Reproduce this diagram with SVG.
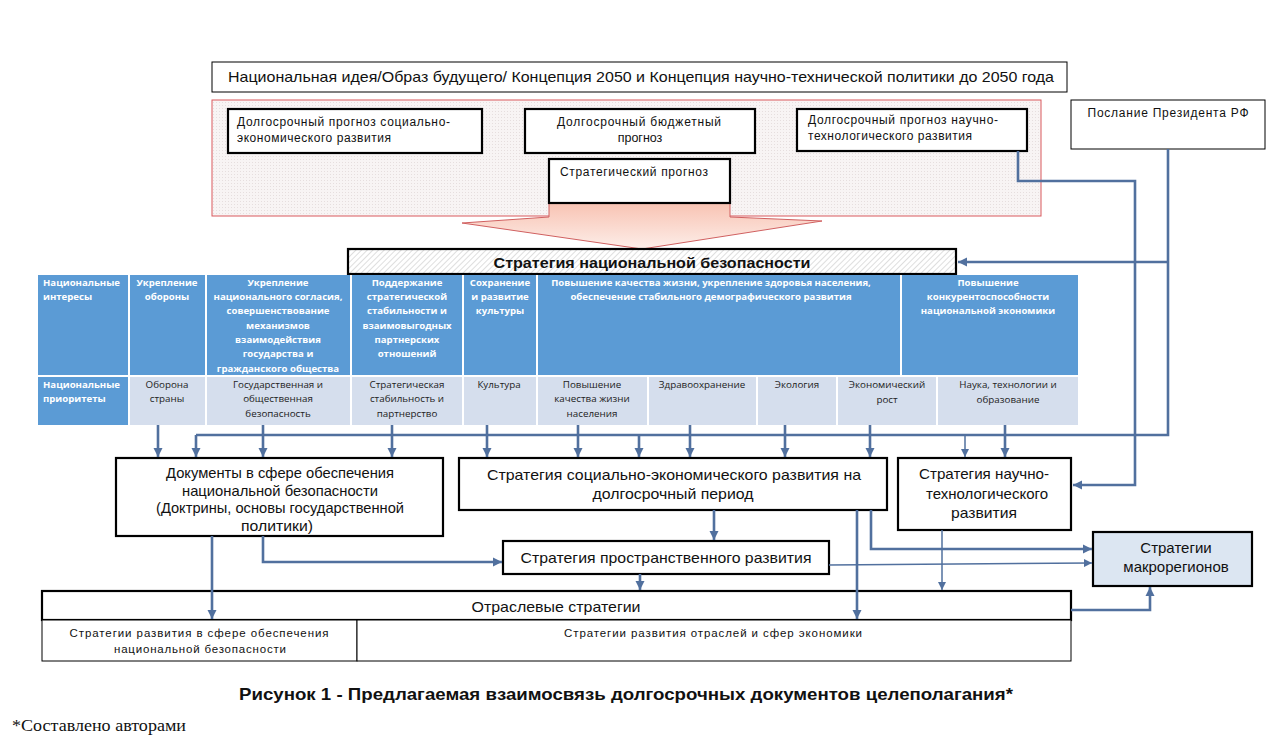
<svg xmlns="http://www.w3.org/2000/svg" width="1288" height="740" viewBox="0 0 1288 740">
<style>
.t{font-family:"Liberation Sans",Arial,sans-serif;fill:#111}
.c{text-anchor:middle}
.bx{fill:#fff;stroke:#000;stroke-width:2.2}
.thin{fill:#fff;stroke:#000;stroke-width:1}
.th{font-family:"Open Sans","Noto Sans",sans-serif;font-size:9.6px;font-weight:bold;fill:#fff}
.td{font-family:"Open Sans","Noto Sans",sans-serif;font-size:9.8px;fill:#222}
.hd{fill:#5b9bd5}
.pr{fill:#d5deed}
.cn{fill:none;stroke:#51709e;stroke-width:2.6}
.cn2{fill:none;stroke:#51709e;stroke-width:1.5}
</style>
<defs>
<pattern id="dots" width="3" height="3" patternUnits="userSpaceOnUse"><rect width="3" height="3" fill="#f8f4f4"/><rect width="1" height="1" fill="#e6dede"/></pattern>
<pattern id="hatch" width="4" height="4" patternUnits="userSpaceOnUse" patternTransform="rotate(45)"><rect width="4" height="4" fill="#fff"/><line x1="0" y1="0" x2="0" y2="4" stroke="#bdbdbd" stroke-width="1"/></pattern>
<linearGradient id="ag" x1="0" y1="0" x2="0" y2="1"><stop offset="0" stop-color="#f8c3b3"/><stop offset="1" stop-color="#fdeee9"/></linearGradient>
<marker id="ah" viewBox="0 0 10 10" refX="10" refY="5" markerWidth="9" markerHeight="10" markerUnits="userSpaceOnUse" orient="auto"><path d="M0,0 L10,5 L0,10 z" fill="#51709e"/></marker>
<marker id="ah2" viewBox="0 0 10 10" refX="10" refY="5" markerWidth="8" markerHeight="8" markerUnits="userSpaceOnUse" orient="auto"><path d="M0,0 L10,5 L0,10 z" fill="#51709e"/></marker>
</defs>
<rect width="1288" height="740" fill="#fff"/>

<g id="idea">
<rect x="212" y="62" width="855" height="30" class="thin"/>
<text class="t" x="228" y="82" font-size="15" textLength="826" lengthAdjust="spacingAndGlyphs">Национальная идея/Образ будущего/  Концепция 2050 и Концепция научно-технической  политики  до 2050 года</text>
</g>

<g id="forecast-area">
<rect x="212" y="100" width="829" height="116" fill="url(#dots)" stroke="#d9595c" stroke-width="1"/>
</g>

<g id="big-arrow">
<path d="M549,203 L730,203 L730,217 L822,221 L642,249 L462,223 L549,217 Z" fill="url(#ag)" stroke="#d06060" stroke-width="1"/>
</g>

<g id="f1">
<rect x="228" y="109" width="254" height="44" class="bx"/>
<text class="t" x="237" y="126" font-size="12" textLength="213" lengthAdjust="spacing">Долгосрочный прогноз социально-</text>
<text class="t" x="237" y="142" font-size="12" textLength="154" lengthAdjust="spacing">экономического развития</text>
</g>
<g id="f2">
<rect x="525" y="109" width="230" height="44" class="bx"/>
<text class="t c" x="639" y="126" font-size="12" textLength="164" lengthAdjust="spacing">Долгосрочный бюджетный</text>
<text class="t c" x="640" y="142" font-size="12.5">прогноз</text>
</g>
<g id="f3">
<rect x="797" y="109" width="230" height="42" class="bx"/>
<text class="t" x="808" y="124" font-size="12" textLength="190" lengthAdjust="spacing">Долгосрочный прогноз научно-</text>
<text class="t" x="808" y="140" font-size="12" textLength="164" lengthAdjust="spacing">технологического развития</text>
</g>
<g id="f4">
<rect x="549" y="159" width="181" height="44" class="bx"/>
<text class="t" x="560" y="176" font-size="12" textLength="148" lengthAdjust="spacing">Стратегический прогноз</text>
</g>

<g id="president">
<rect x="1071" y="100" width="194" height="49" class="thin"/>
<text class="t c" x="1168" y="117" font-size="12" textLength="161" lengthAdjust="spacing">Послание Президента РФ</text>
</g>

<g id="nsb">
<rect x="348" y="249" width="608" height="25" fill="url(#hatch)" stroke="#000" stroke-width="2.2"/>
<text class="t c" x="652" y="268" font-size="15" font-weight="bold" textLength="317" lengthAdjust="spacingAndGlyphs">Стратегия национальной безопасности</text>
</g>

<g id="table">
<rect x="38" y="275" width="1040" height="100" class="hd"/>
<g stroke="#fff" stroke-width="2">
<line x1="129" y1="275" x2="129" y2="375"/><line x1="206" y1="275" x2="206" y2="375"/><line x1="351" y1="275" x2="351" y2="375"/><line x1="463" y1="275" x2="463" y2="375"/><line x1="537" y1="275" x2="537" y2="375"/><line x1="901" y1="275" x2="901" y2="375"/>
</g>
<rect x="38" y="377" width="90" height="48" class="hd"/>
<rect x="130" y="377" width="75" height="48" class="pr"/>
<rect x="207" y="377" width="143" height="48" class="pr"/>
<rect x="352" y="377" width="110" height="48" class="pr"/>
<rect x="464" y="377" width="72" height="48" class="pr"/>
<rect x="538" y="377" width="109" height="48" class="pr"/>
<rect x="649" y="377" width="107" height="48" class="pr"/>
<rect x="758" y="377" width="78" height="48" class="pr"/>
<rect x="838" y="377" width="98" height="48" class="pr"/>
<rect x="938" y="377" width="140" height="48" class="pr"/>

<text class="th" x="43" y="286">Национальные</text>
<text class="th" x="43" y="300">интересы</text>
<text class="th c" x="167" y="286">Укрепление</text>
<text class="th c" x="167" y="300">обороны</text>
<g class="th" text-anchor="middle">
<text x="278" y="286">Укрепление</text>
<text x="278" y="300">национального согласия,</text>
<text x="278" y="314">совершенствование</text>
<text x="278" y="329">механизмов</text>
<text x="278" y="343">взаимодействия</text>
<text x="278" y="357">государства и</text>
<text x="278" y="372">гражданского общества</text>
<text x="407" y="286">Поддержание</text>
<text x="407" y="300">стратегической</text>
<text x="407" y="314">стабильности и</text>
<text x="407" y="329">взаимовыгодных</text>
<text x="407" y="343">партнерских</text>
<text x="407" y="357">отношений</text>
<text x="500" y="286">Сохранение</text>
<text x="500" y="300">и развитие</text>
<text x="500" y="314">культуры</text>
<text x="711" y="286">Повышение качества жизни, укрепление здоровья  населения,</text>
<text x="711" y="300">обеспечение стабильного демографического  развития</text>
<text x="988" y="286">Повышение</text>
<text x="988" y="300">конкурентоспособности</text>
<text x="988" y="314">национальной экономики</text>
</g>
<text class="th" x="43" y="388">Национальные</text>
<text class="th" x="43" y="402">приоритеты</text>
<g class="td" text-anchor="middle">
<text x="167" y="388">Оборона</text>
<text x="167" y="402">страны</text>
<text x="278" y="388">Государственная и</text>
<text x="278" y="402">общественная</text>
<text x="278" y="417">безопасность</text>
<text x="407" y="388">Стратегическая</text>
<text x="407" y="402">стабильность и</text>
<text x="407" y="417">партнерство</text>
<text x="499" y="388">Культура</text>
<text x="592" y="388">Повышение</text>
<text x="592" y="402">качества жизни</text>
<text x="592" y="417">населения</text>
<text x="702" y="388">Здравоохранение</text>
<text x="797" y="388">Экология</text>
<text x="887" y="388">Экономический</text>
<text x="887" y="403">рост</text>
<text x="1008" y="388">Наука, технологии и</text>
<text x="1008" y="403">образование</text>
</g>
</g>

<g id="docs">
<rect x="116" y="458" width="327" height="78" class="bx"/>
<text class="t c" x="280" y="478" font-size="14.5" textLength="228" lengthAdjust="spacingAndGlyphs">Документы в сфере обеспечения</text>
<text class="t c" x="280" y="496" font-size="14.5" textLength="196" lengthAdjust="spacingAndGlyphs">национальной безопасности</text>
<text class="t c" x="280" y="513" font-size="14.5" textLength="248" lengthAdjust="spacingAndGlyphs">(Доктрины, основы государственной</text>
<text class="t c" x="277" y="531" font-size="14.5" textLength="72" lengthAdjust="spacingAndGlyphs">политики)</text>
</g>
<g id="socio">
<rect x="459" y="458" width="428" height="52" class="bx"/>
<text class="t c" x="674" y="480" font-size="15" textLength="374" lengthAdjust="spacingAndGlyphs">Стратегия социально-экономического  развития на</text>
<text class="t c" x="673" y="499" font-size="15" textLength="161" lengthAdjust="spacingAndGlyphs">долгосрочный период</text>
</g>
<g id="scitech">
<rect x="898" y="458" width="173" height="72" class="bx"/>
<text class="t c" x="984" y="479" font-size="15" textLength="130" lengthAdjust="spacingAndGlyphs">Стратегия научно-</text>
<text class="t c" x="987" y="499" font-size="15" textLength="122" lengthAdjust="spacingAndGlyphs">технологического</text>
<text class="t c" x="984" y="518" font-size="15" textLength="66" lengthAdjust="spacingAndGlyphs">развития</text>
</g>
<g id="spatial">
<rect x="503" y="541" width="326" height="33" class="bx"/>
<text class="t c" x="666" y="563" font-size="15" textLength="291" lengthAdjust="spacingAndGlyphs">Стратегия пространственного развития</text>
</g>
<g id="macro">
<rect x="1093" y="532" width="159" height="54" fill="#dce6f2" stroke="#000" stroke-width="2.2"/>
<text class="t c" x="1176" y="553" font-size="15">Стратегии</text>
<text class="t c" x="1176" y="572" font-size="15">макрорегионов</text>
</g>
<g id="sector">
<rect x="42" y="591" width="1029" height="29" class="bx"/>
<text class="t c" x="556" y="612" font-size="15" textLength="169" lengthAdjust="spacingAndGlyphs">Отраслевые стратегии</text>
</g>
<g id="sector-nsb">
<rect x="42" y="620" width="315" height="41" class="thin"/>
<text class="t c" x="199" y="637" font-size="11.5" textLength="259" lengthAdjust="spacing">Стратегии развития в сфере обеспечения</text>
<text class="t c" x="200" y="653" font-size="11.5" textLength="172" lengthAdjust="spacing">национальной безопасности</text>
</g>
<g id="sector-econ">
<rect x="357" y="620" width="714" height="41" class="thin"/>
<text class="t c" x="713" y="637" font-size="11.5" textLength="298" lengthAdjust="spacing">Стратегии развития отраслей и сфер экономики</text>
</g>

<g id="connectors">
<path class="cn" d="M1168,149 V435 H196"/>
<path class="cn" d="M196,435 V457" marker-end="url(#ah)"/>
<path class="cn" d="M639,435 V457" marker-end="url(#ah)"/>
<path class="cn2" d="M965,435 V457" marker-end="url(#ah2)"/>
<path class="cn" d="M1168,262 H958" marker-end="url(#ah)"/>
<path class="cn" d="M1018,151 V181 H1135 V485 H1073" marker-end="url(#ah)"/>
<path class="cn" d="M158,425 V457" marker-end="url(#ah)"/>
<path class="cn" d="M263,425 V457" marker-end="url(#ah)"/>
<path class="cn" d="M392,425 V457" marker-end="url(#ah)"/>
<path class="cn" d="M487,425 V457" marker-end="url(#ah)"/>
<path class="cn" d="M578,425 V457" marker-end="url(#ah)"/>
<path class="cn" d="M690,425 V457" marker-end="url(#ah)"/>
<path class="cn" d="M785,425 V457" marker-end="url(#ah)"/>
<path class="cn" d="M870,425 V457" marker-end="url(#ah)"/>
<path class="cn" d="M1005,425 V457" marker-end="url(#ah)"/>
<path class="cn" d="M212,536 V619" marker-end="url(#ah)"/>
<path class="cn" d="M263,536 V562 H502" marker-end="url(#ah)"/>
<path class="cn" d="M714,510 V540" marker-end="url(#ah)"/>
<path class="cn" d="M857,510 V619" marker-end="url(#ah)"/>
<path class="cn" d="M871,510 V549 H1092" marker-end="url(#ah)"/>
<path class="cn2" d="M829,565 L1092,563" marker-end="url(#ah2)"/>
<path class="cn" d="M640,574 V590" marker-end="url(#ah)"/>
<path class="cn2" d="M942,530 V590" marker-end="url(#ah2)"/>
<path class="cn" d="M1071,610 H1150 V587" marker-end="url(#ah)"/>
</g>

<g id="caption">
<text class="t" x="239" y="700" font-size="16.5" font-weight="bold" textLength="774" lengthAdjust="spacingAndGlyphs">Рисунок 1 - Предлагаемая взаимосвязь долгосрочных документов целеполагания*</text>
<text x="12" y="731" font-family="'Liberation Serif','Times New Roman',serif" font-size="16" fill="#111" textLength="174" lengthAdjust="spacingAndGlyphs">*Составлено авторами</text>
</g>
</svg>
